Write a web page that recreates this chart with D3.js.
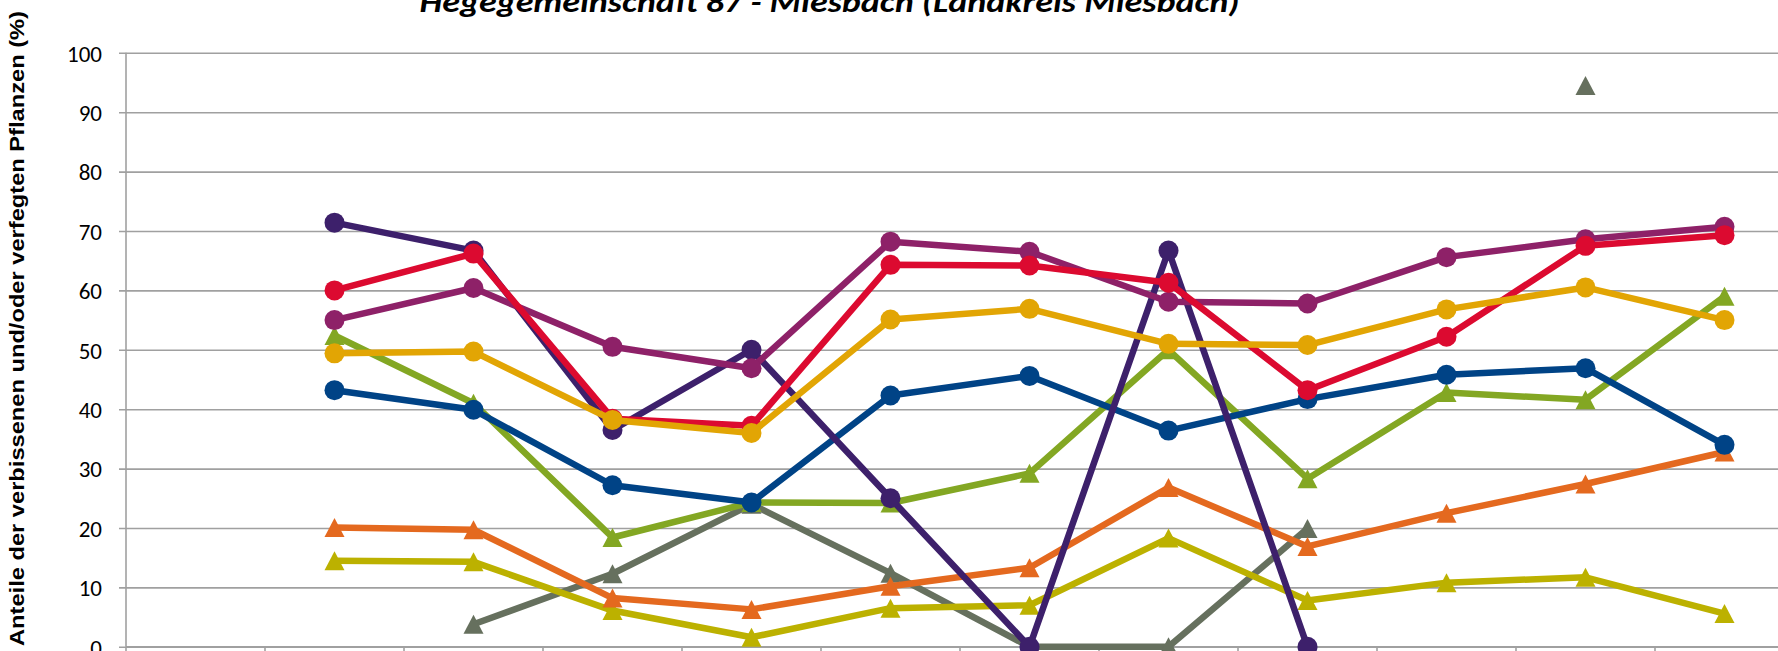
<!DOCTYPE html>
<html>
<head>
<meta charset="utf-8">
<script src="https://cdn.jsdelivr.net/npm/d3@7"></script>
<style>
  html, body { margin: 0; padding: 0; background: #fff; overflow: hidden; }
  svg { display: block; }
</style>
</head>
<body>
<svg id="chart" width="1778" height="651"></svg>
<script>
// ---- data ----
const categories = ["1", "2", "3", "4", "5", "6", "7", "8", "9", "10", "11", "12"];
const yTicks = [0, 10, 20, 30, 40, 50, 60, 70, 80, 90, 100];
const titleText = "Hegegemeinschaft 87 - Miesbach (Landkreis Miesbach)";
const yAxisTitle = "Anteile der verbissenen und/oder verfegten Pflanzen (%)";

// triangle series
const grayValues   = [null, null, 3.8, 12.3, 24.0, 12.4, 0, 0, 19.9, null, 94.5, null];
const oliveValues  = [null, 14.5, 14.3, 6.1, 1.6, 6.5, 7.0, 18.3, 7.8, 10.8, 11.7, 5.6];
const orangeValues = [null, 20.1, 19.7, 8.2, 6.3, 10.2, 13.3, 26.8, 16.9, 22.5, 27.4, 32.8];
const greenValues  = [null, 52.4, 41.0, 18.4, 24.3, 24.2, 29.2, 50.0, 28.3, 42.8, 41.6, 59.0];
// circle series
const blueValues    = [null, 43.2, 39.9, 27.2, 24.3, 42.3, 45.6, 36.4, 41.7, 45.8, 46.9, 34.0];
const purpleValues  = [null, 71.4, 66.7, 36.5, 50.0, 25.0, 0, 66.7, 0, null, null, null];
const magentaValues = [null, 55.0, 60.4, 50.5, 46.9, 68.2, 66.5, 58.1, 57.8, 65.6, 68.6, 70.7];
const redValues     = [null, 60.0, 66.2, 38.4, 37.2, 64.3, 64.2, 61.3, 43.2, 52.2, 67.5, 69.3];
const yellowValues  = [null, 49.4, 49.7, 38.2, 36.0, 55.1, 56.9, 51.0, 50.8, 56.8, 60.5, 55.0];

const series = [
  { name: "gray",    values: grayValues,    color: "#66705E", marker: "triangle" },
  { name: "olive",   values: oliveValues,   color: "#BCB100", marker: "triangle" },
  { name: "orange",  values: orangeValues,  color: "#E4691F", marker: "triangle" },
  { name: "green",   values: greenValues,   color: "#83A723", marker: "triangle" },
  { name: "blue",    values: blueValues,    color: "#004386", marker: "circle" },
  { name: "purple",  values: purpleValues,  color: "#3D206B", marker: "circle" },
  { name: "magenta", values: magentaValues, color: "#8E2168", marker: "circle" },
  { name: "red",     values: redValues,     color: "#DC0A30", marker: "circle" },
  { name: "yellow",  values: yellowValues,  color: "#E2A504", marker: "circle" }
];

// ---- layout ----
const W = 1778, H = 651;
const plotLeft = 126, plotTop = 52.8, plotBottom = 646.8;
const bandW = 139;

const svg = d3.select("#chart");

const x = d3.scaleBand()
  .domain(categories)
  .range([plotLeft, plotLeft + bandW * categories.length])
  .padding(0);

const y = d3.scaleLinear().domain([0, 100]).range([plotBottom, plotTop]);

// gridlines + y axis ticks
const yAxis = d3.axisLeft(y)
  .tickValues(yTicks)
  .tickSize(-(W - plotLeft + 20))
  .tickSizeOuter(0)
  .tickFormat(d3.format("d"));

const gy = svg.append("g")
  .attr("transform", `translate(${plotLeft},0)`)
  .call(yAxis);
gy.select(".domain").remove();
gy.selectAll(".tick line")
  .attr("x1", -7)
  .attr("stroke", "#a0a0a0")
  .attr("stroke-width", 1.6);
gy.selectAll(".tick text")
  .attr("font-family", "Carlito, Calibri, 'Liberation Sans', sans-serif")
  .attr("font-size", 23)
  .attr("fill", "#000")
  .attr("x", -24)
  .attr("dy", "0.36em");

// y axis line
svg.append("line")
  .attr("x1", plotLeft).attr("x2", plotLeft)
  .attr("y1", plotTop).attr("y2", plotBottom)
  .attr("stroke", "#a0a0a0").attr("stroke-width", 1.6);

// x axis with category boundary ticks (labels fall outside the visible area)
const xAxis = d3.axisBottom(x).tickSize(0).tickFormat("");
const gx = svg.append("g")
  .attr("transform", `translate(0,${plotBottom})`)
  .call(xAxis);
gx.select(".domain").attr("stroke", "#a0a0a0").attr("stroke-width", 1.6)
  .attr("d", `M${plotLeft},0H${W + 20}`);
gx.selectAll(".boundary")
  .data(categories)
  .enter().append("line")
  .attr("class", "boundary")
  .attr("x1", d => x(d)).attr("x2", d => x(d))
  .attr("y1", 0).attr("y2", 8)
  .attr("stroke", "#a0a0a0").attr("stroke-width", 1.6);

// lines & markers
const cx = i => x(categories[i]) + x.bandwidth() / 2;
const line = d3.line()
  .defined(d => d.v !== null)
  .x(d => cx(d.i))
  .y(d => y(d.v));

const triPath = (px, py) => {
  const w = 20, h = 19;
  return `M${px},${py - h / 2}L${px + w / 2},${py + h / 2}L${px - w / 2},${py + h / 2}Z`;
};

series.forEach(s => {
  const pts = s.values.map((v, i) => ({ v, i }));
  const g = svg.append("g").attr("class", "series " + s.name);
  g.append("path")
    .datum(pts)
    .attr("d", line)
    .attr("fill", "none")
    .attr("stroke", s.color)
    .attr("stroke-width", 6.5)
    .attr("stroke-linejoin", "round");
  const valid = pts.filter(d => d.v !== null);
  if (s.marker === "circle") {
    g.selectAll("circle").data(valid).enter().append("circle")
      .attr("cx", d => cx(d.i))
      .attr("cy", d => y(d.v))
      .attr("r", 10)
      .attr("fill", s.color);
  } else {
    g.selectAll("path.m").data(valid).enter().append("path")
      .attr("class", "m")
      .attr("d", d => triPath(cx(d.i), y(d.v)))
      .attr("fill", s.color);
  }
});

// title (cropped at top in the reference)
svg.append("text")
  .attr("x", 829.5)
  .attr("y", 11.5)
  .attr("text-anchor", "middle")
  .attr("font-family", "Carlito, Calibri, 'Liberation Sans', sans-serif")
  .attr("font-weight", "bold")
  .attr("font-style", "italic")
  .attr("font-size", 30)
  .attr("textLength", 820)
  .attr("lengthAdjust", "spacingAndGlyphs")
  .attr("fill", "#000")
  .text(titleText);

// y axis title
svg.append("text")
  .attr("transform", `translate(24,${(11 + 646) / 2}) rotate(-90)`)
  .attr("text-anchor", "middle")
  .attr("font-family", "'Liberation Sans', Arial, sans-serif")
  .attr("font-weight", "bold")
  .attr("font-size", 20)
  .attr("textLength", 635)
  .attr("lengthAdjust", "spacingAndGlyphs")
  .attr("fill", "#000")
  .text(yAxisTitle);
</script>
</body>
</html>
